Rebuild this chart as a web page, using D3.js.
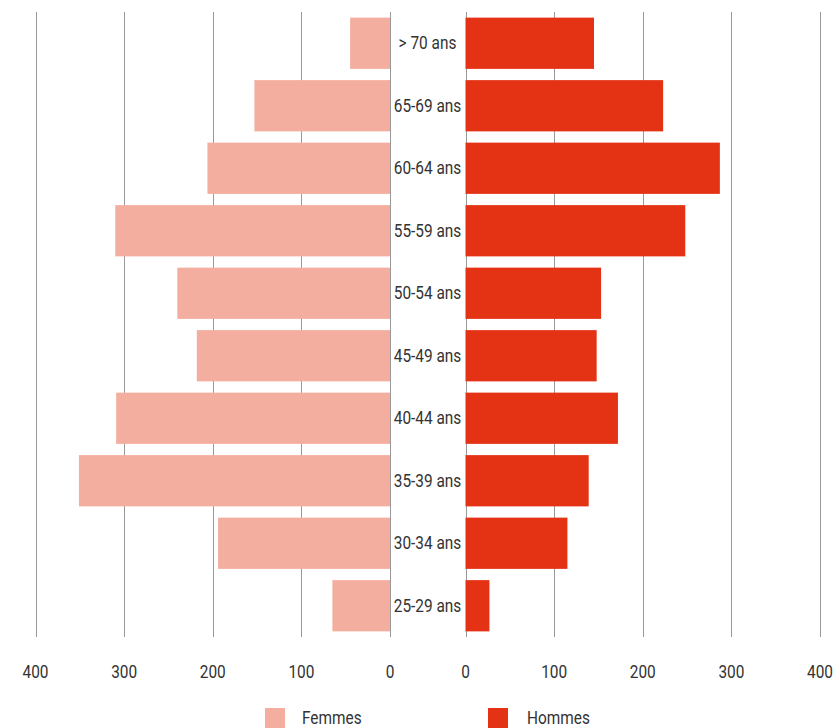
<!DOCTYPE html>
<html><head><meta charset="utf-8">
<script src="https://cdn.jsdelivr.net/npm/d3@7"></script>
<style>body{margin:0;background:#fff}text{font-family:Roboto,"Noto Sans",sans-serif;fill:#333}</style>
</head><body><svg id="c" width="837" height="728"></svg>
<script>
const categories = ["> 70 ans","65-69 ans","60-64 ans","55-59 ans","50-54 ans","45-49 ans","40-44 ans","35-39 ans","30-34 ans","25-29 ans"];
const femmes = [45,153,206,310,240,218,309,351,194,65];
const hommes = [145,223,287,248,153,148,172,139,115,27];
const ticks = [0,100,200,300,400];
const seriesNames = ["Femmes","Hommes"];
const colors = ["#f4ae9f","#e33214"];

const svg = d3.select("#c");
const yTop = 12, yBottom = 637;
const FS = 17.5, SX = 0.88;
const y = d3.scaleBand().domain(categories).range([yTop,yBottom]).paddingInner(0.18).paddingOuter(0.09);
const xl = d3.scaleLinear().domain([0,400]).range([390,35.5]);
const xr = d3.scaleLinear().domain([0,400]).range([465.5,820]);

function cond(sel, fx, fy){
  return sel.attr("transform",(d,i)=>`translate(${fx(d,i)},${fy(d,i)}) scale(${SX},1)`)
    .attr("font-size",FS);
}

const g = svg.append("g");
[xl,xr].forEach(x=>{
  g.selectAll(null).data(ticks).enter().append("line")
   .attr("x1",d=>Math.round(x(d))+0.5).attr("x2",d=>Math.round(x(d))+0.5)
   .attr("y1",yTop).attr("y2",yBottom).attr("stroke","#999").attr("stroke-width",1);
  cond(g.selectAll(null).data(ticks).enter().append("text")
   .attr("text-anchor","middle").text(d=>d), d=>x(d), ()=>678);
});

svg.selectAll(".f").data(femmes).enter().append("rect")
  .attr("x",d=>xl(d)).attr("width",d=>xl(0)-xl(d))
  .attr("y",(d,i)=>y(categories[i])).attr("height",y.bandwidth()).attr("fill",colors[0]);
svg.selectAll(".h").data(hommes).enter().append("rect")
  .attr("x",xr(0)).attr("width",d=>xr(d)-xr(0))
  .attr("y",(d,i)=>y(categories[i])).attr("height",y.bandwidth()).attr("fill",colors[1]);

cond(svg.selectAll(".lab").data(categories).enter().append("text")
  .attr("dy","0.35em").attr("text-anchor","middle").text(d=>d),
  ()=>427.5, d=>y(d)+y.bandwidth()/2);

const leg = [{x:265,tx:302},{x:488,tx:527}];
seriesNames.forEach((n,i)=>{
  svg.append("rect").attr("x",leg[i].x).attr("y",708).attr("width",20).attr("height",20).attr("fill",colors[i]);
  cond(svg.append("text").datum(n).text(n), ()=>leg[i].tx, ()=>724);
});
</script></body></html>
